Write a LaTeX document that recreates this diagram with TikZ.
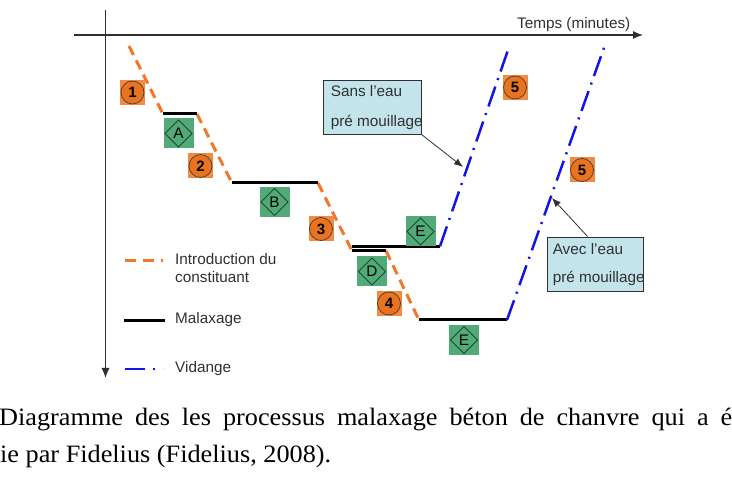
\documentclass[tikz,border=0pt]{standalone}
\usepackage{fontspec}
\setmainfont{Liberation Serif}
\newfontfamily\arial{Liberation Sans}
\newfontfamily\capfont{Liberation Serif}[FakeStretch=1.05]
\usetikzlibrary{shapes,arrows.meta}
\usetikzlibrary{calc}

\definecolor{orangeintro}{HTML}{F07828}
\definecolor{orangebox}{HTML}{F5893F}
\definecolor{orangerond}{HTML}{E9731F}
\definecolor{vertbox}{HTML}{52AA78}
\definecolor{vertbord}{HTML}{1E4A30}
\definecolor{bleuvid}{HTML}{1414E6}
\definecolor{cyanbox}{HTML}{C3E4EA}
\definecolor{texte}{HTML}{303030}

\tikzset{
	axe/.style={draw=texte, line width=1.1pt, -{Latex[length=10pt,width=8pt]}},
	intro/.style={orangeintro, line width=3pt, dash pattern=on 10pt off 6pt},
	malax/.style={black, line width=3pt},
	vidange/.style={bleuvid, line width=2.5pt, dash pattern=on 21pt off 7pt on 2pt off 7pt},
	txt/.style={inner sep=0, text=texte, font=\arial\fontsize{15.3}{18}\selectfont},
	numero/.style={rectangle, fill=orangebox, minimum size=25pt, inner sep=0,
		font=\arial\bfseries\fontsize{15}{18}\selectfont,
		path picture={\draw[fill=orangerond, draw=black!75, line width=0.7pt]
			(path picture bounding box.center) circle (11.5pt);}},
	etape/.style={rectangle, fill=vertbox, minimum size=30pt, inner sep=0,
		font=\arial\fontsize{15.3}{18}\selectfont,
		path picture={\draw[vertbord, line width=0.8pt]
			([yshift=-1.5pt]path picture bounding box.north) --
			([xshift=-1.5pt]path picture bounding box.east) --
			([yshift=1.5pt]path picture bounding box.south) --
			([xshift=1.5pt]path picture bounding box.west) -- cycle;}},
	bulle/.style={rectangle, draw=texte, fill=cyanbox, line width=0.8pt, inner sep=0},
	fleche/.style={draw=texte, line width=0.8pt, -{Latex[length=9pt,width=7pt]}}
}

\begin{document}
\begin{tikzpicture}[x=1pt, y=-1pt]
	% cadre de la figure
	\useasboundingbox (0,0) rectangle (732,502);
	\clip (0,0) rectangle (732,502);
	
	% axes
	\coordinate (Yh) at (105.5,10);
	\coordinate (Yb) at (105.5,378);
	\coordinate (Xg) at (74,35);
	\coordinate (Xd) at (643,35);
	\draw[axe] (Yh) -- (Yb);
	\draw[axe] (Xg) -- (Xd);
	\node[txt, anchor=base west] (temps) at (517,29) {Temps (minutes)};
	
	% points du processus
	\coordinate (i0) at (129,46);
	\coordinate (a1) at (163,114);
	\coordinate (a2) at (197,114);
	\coordinate (b1) at (232,183);
	\coordinate (b2) at (318,183);
	\coordinate (c1) at (352,246.3);
	\coordinate (c2) at (440,246.3);
	\coordinate (d1) at (352,250.8);
	\coordinate (d2) at (386,250.8);
	\coordinate (e1) at (419,320);
	\coordinate (e2) at (507,320);
	\coordinate (v1) at (508,50);
	\coordinate (v2) at (605,45);
	
	% introduction du constituant
	\draw[intro] (i0) -- (a1);
	\draw[intro] (a2) -- (b1);
	\draw[intro] (b2) -- (d1);
	\draw[intro] (d2) -- (e1);
	
	% malaxage
	\draw[malax] (a1) -- (a2);
	\draw[malax] (b1) -- (b2);
	\draw[malax] (c1) -- (c2);
	\draw[malax] (d1) -- (d2);
	\draw[malax] (e1) -- (e2);
	
	% vidange
	\draw[vidange] (c2) -- (v1);
	\draw[vidange] (e2) -- (v2);
	
	% numeros
	\node[numero] (n1) at (132.5,92.5) {1};
	\node[numero] (n2) at (200.5,166) {2};
	\node[numero] (n3) at (321,229) {3};
	\node[numero] (n4) at (389,303.5) {4};
	\node[numero] (n5a) at (515,87.5) {5};
	\node[numero] (n5b) at (582,170) {5};
	
	% etapes
	\node[etape] (eA) at (178.5,133.5) {A};
	\node[etape] (eB) at (274.5,202) {B};
	\node[etape] (eD) at (372,271.5) {D};
	\node[etape] (eE) at (420.5,231.5) {E};
	\node[etape] (eF) at (464,340) {E};
	
	% bulle sans eau
	\node[bulle, minimum width=98pt, minimum height=54pt] (sans) at (372,107) {};
	\node[txt, anchor=base west] (sans1) at ([xshift=8pt,yshift=-17pt]sans.north west) {Sans l’eau};
	\node[txt, anchor=base west] (sans2) at ([yshift=-30pt]sans1.base west) {pré mouillage};
	\coordinate (cible1) at (463,167);
	\draw[fleche] (sans.south east) -- (cible1);
	
	% bulle avec eau
	\node[bulle, minimum width=96pt, minimum height=54pt] (avec) at (595,264) {};
	\node[txt, anchor=base west] (avec1) at ([xshift=6pt,yshift=-18pt]avec.north west) {Avec l’eau};
	\node[txt, anchor=base west] (avec2) at ([yshift=-28pt]avec1.base west) {pré mouillage};
	\coordinate (cible2) at (552,198);
	\draw[fleche] (avec.105) -- (cible2);
	
	% legende
	\coordinate (li1) at (125,261);
	\coordinate (li2) at (163,261);
	\coordinate (lm1) at (124,321);
	\coordinate (lm2) at (165,321);
	\coordinate (lv1) at (125,369);
	\coordinate (lv2) at (163,369);
	\draw[intro, dash pattern=on 11pt off 7pt] (li1) -- (li2);
	\draw[malax] (lm1) -- (lm2);
	\draw[vidange, dash pattern=on 20pt off 8pt on 2pt off 8pt] (lv1) -- (lv2);
	\node[txt, anchor=base west] (leg1) at (175,265) {Introduction du};
	\node[txt, anchor=base west] (leg1b) at ([yshift=-18pt]leg1.base west) {constituant};
	\node[txt, anchor=base west] (leg2) at (175,324) {Malaxage};
	\node[txt, anchor=base west] (leg3) at (175,373) {Vidange};
	
	% legende de la figure
	\node[inner sep=0, anchor=base west, font=\capfont\fontsize{25}{29}\selectfont] (cap1) at (-1,426)
		{\makebox[733pt][s]{Diagramme des les processus malaxage béton de chanvre qui a é}};
	\node[inner sep=0, anchor=base west, font=\capfont\fontsize{25}{29}\selectfont] (cap2) at (0,463)
		{ie par Fidelius (Fidelius, 2008).};
\end{tikzpicture}
\end{document}
